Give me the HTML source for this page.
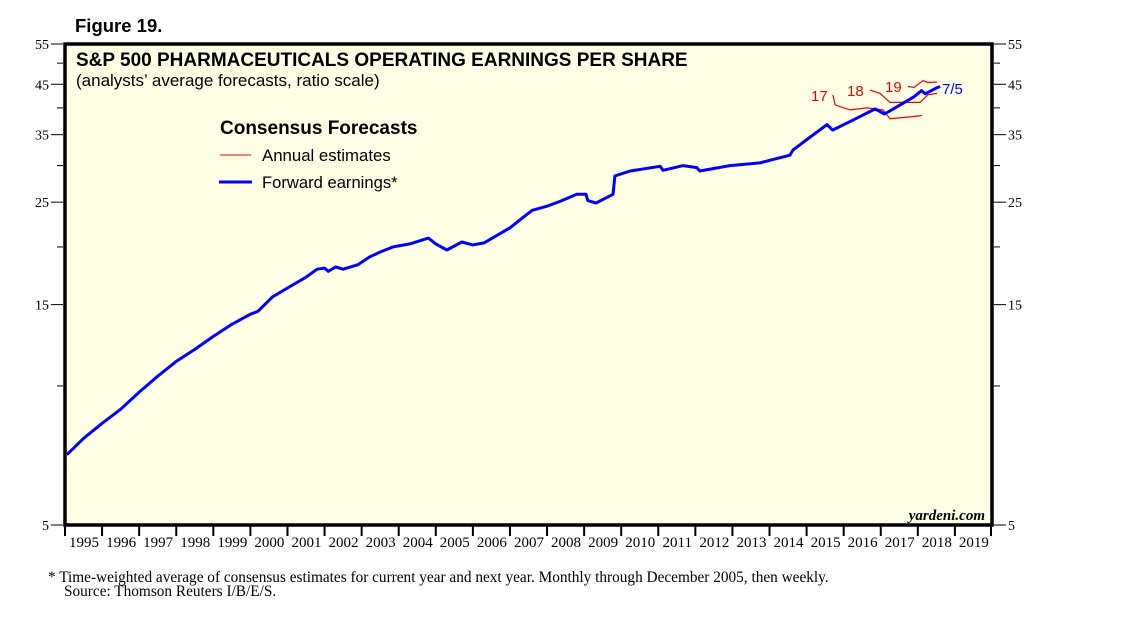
<!DOCTYPE html>
<html><head><meta charset="utf-8"><style>
body{margin:0;background:#fff;width:1138px;height:621px;overflow:hidden;font-family:"Liberation Sans",sans-serif}
svg{display:block}
</style></head><body>
<svg id="chart" width="1138" height="621">
<text x="75" y="32" font-family="Liberation Sans" font-weight="bold" font-size="18.5">Figure 19.</text>
<rect x="65" y="44" width="927" height="481" fill="#ffffe6" stroke="#000" stroke-width="3.5"/>
<text x="76" y="66" font-weight="bold" font-size="19">S&amp;P 500 PHARMACEUTICALS OPERATING EARNINGS PER SHARE</text>
<text x="76" y="86" font-size="17">(analysts’ average forecasts, ratio scale)</text>
<text x="220" y="134" font-weight="bold" font-size="19">Consensus Forecasts</text>
<line x1="220" y1="155" x2="251" y2="155" stroke="#e00" stroke-width="1"/>
<text x="262" y="161" font-size="16.8">Annual estimates</text>
<line x1="219" y1="182" x2="252" y2="182" stroke="#00f" stroke-width="3"/>
<text x="262" y="188" font-size="16.6">Forward earnings*</text>
<text x="985" y="520" text-anchor="end" font-family="Liberation Serif" font-style="italic" font-weight="bold" font-size="15">yardeni.com</text>
<g id="axes"></g>
<g id="series"></g>
<text x="811" y="101" fill="#e00" font-size="15">17</text>
<text x="847" y="96" fill="#e00" font-size="15">18</text>
<text x="885" y="92" fill="#e00" font-size="15">19</text>
<text x="942" y="94" fill="#00f" font-size="15">7/5</text>
<text x="48" y="582" font-family="Liberation Serif" font-size="15.3">*   Time-weighted average of consensus estimates for current year and next year. Monthly through December 2005, then weekly.</text>
<text x="64" y="596" font-family="Liberation Serif" font-size="15.3">Source: Thomson Reuters I/B/E/S.</text>
</svg>
<script>
const yTicks=[5,15,25,35,45,55];
const yMinor=[10,20,30,40,50];
const years=[1995,1996,1997,1998,1999,2000,2001,2002,2003,2004,2005,2006,2007,2008,2009,2010,2011,2012,2013,2014,2015,2016,2017,2018,2019];
const fwdDates=[1995.05,1995.5,1996.0,1996.5,1997.0,1997.5,1998.0,1998.5,1999.0,1999.5,2000.0,2000.2,2000.6,2001.0,2001.5,2001.8,2002.0,2002.1,2002.3,2002.5,2002.9,2003.2,2003.5,2003.85,2004.3,2004.8,2005.0,2005.3,2005.7,2006.0,2006.3,2006.7,2007.0,2007.3,2007.6,2008.0,2008.35,2008.8,2009.05,2009.1,2009.32,2009.78,2009.83,2010.24,2011.05,2011.13,2011.67,2012.04,2012.12,2012.93,2013.74,2014.55,2014.63,2015.1,2015.55,2015.7,2016.3,2016.85,2017.1,2017.5,2017.9,2018.1,2018.2,2018.5,2018.6];
const fwdValues=[7.1,7.7,8.3,8.9,9.7,10.5,11.3,12.0,12.8,13.6,14.3,14.5,15.6,16.3,17.2,17.9,18.0,17.7,18.1,17.9,18.3,19.0,19.5,20.0,20.3,20.9,20.3,19.7,20.5,20.2,20.4,21.3,22.0,23.0,24.0,24.5,25.1,26.0,26.0,25.2,24.9,26.0,28.5,29.2,29.9,29.3,30.0,29.7,29.2,30.0,30.4,31.6,32.4,34.6,36.8,35.8,37.8,39.8,38.8,40.5,42.3,43.6,42.9,44.2,44.5];
const est17Dates=[2015.71,2015.77,2016.17,2016.63,2017.06,2017.25,2017.87,2018.11];
const est17Values=[42.7,40.6,39.6,40.0,39.6,37.9,38.3,38.5];
const est18Dates=[2016.71,2016.98,2017.25,2018.06,2018.27,2018.52];
const est18Values=[43.7,43.0,41.1,41.1,42.7,43.0];
const est19Dates=[2017.73,2017.9,2018.14,2018.27,2018.52];
const est19Values=[44.5,44.3,45.8,45.4,45.5];
const L=65,R=992,T=44,B=525;
const sx=t=>L+(t-1995)*(R-L)/25;
const sy=v=>B-Math.log(v/5)/Math.log(11)*(B-T);
const NS='http://www.w3.org/2000/svg';
const ax=document.getElementById('axes'),se=document.getElementById('series');
function mk(tag,attrs,parent){const e=document.createElementNS(NS,tag);for(const k in attrs)e.setAttribute(k,attrs[k]);parent.appendChild(e);return e;}
yTicks.forEach(v=>{const y=sy(v);
 let a=mk('line',{x1:L-14,x2:L-2,y1:y,y2:y,stroke:'#000'},ax);
 
 
 let b=mk('line',{x1:R+2,x2:R+14,y1:y,y2:y,stroke:'#000'},ax);
 
 
 let t=mk('text',{x:L-16,y:y+5,'text-anchor':'end','font-family':'Liberation Serif','font-size':14},ax);t.textContent=v;
 
 
 let t2=mk('text',{x:R+16,y:y+5,'font-family':'Liberation Serif','font-size':14},ax);t2.textContent=v;
 
 
});
yMinor.forEach(v=>{const y=sy(v);
 let a=mk('line',{x1:L-8,x2:L-2,y1:y,y2:y,stroke:'#000'},ax);
 
 
 let b=mk('line',{x1:R+2,x2:R+8,y1:y,y2:y,stroke:'#000'},ax);
 
 
});
years.forEach((yr,i)=>{const x=sx(yr);
 let a=mk('line',{x1:x,x2:x,y1:B,y2:B+11,stroke:'#000','stroke-width':2},ax);
 
 
 let t=mk('text',{x:x+19,y:B+22,'text-anchor':'middle','font-family':'Liberation Serif','font-size':15},ax);t.textContent=yr;
 
 
});
let e=mk('line',{x1:R-1,x2:R-1,y1:B,y2:B+11,stroke:'#000','stroke-width':2},ax);


function path(d,v){return d.map((t,i)=>(i?'L':'M')+sx(t).toFixed(1)+' '+sy(v[i]).toFixed(1)).join(' ');}
let p17=mk('path',{d:path(est17Dates,est17Values),fill:'none',stroke:'#e00','stroke-width':1.2},se);


let p18=mk('path',{d:path(est18Dates,est18Values),fill:'none',stroke:'#e00','stroke-width':1.2},se);


let p19=mk('path',{d:path(est19Dates,est19Values),fill:'none',stroke:'#e00','stroke-width':1.2},se);


let pf=mk('path',{d:path(fwdDates,fwdValues),fill:'none',stroke:'#00f','stroke-width':3,'stroke-linejoin':'round'},se);


</script>
</body></html>
